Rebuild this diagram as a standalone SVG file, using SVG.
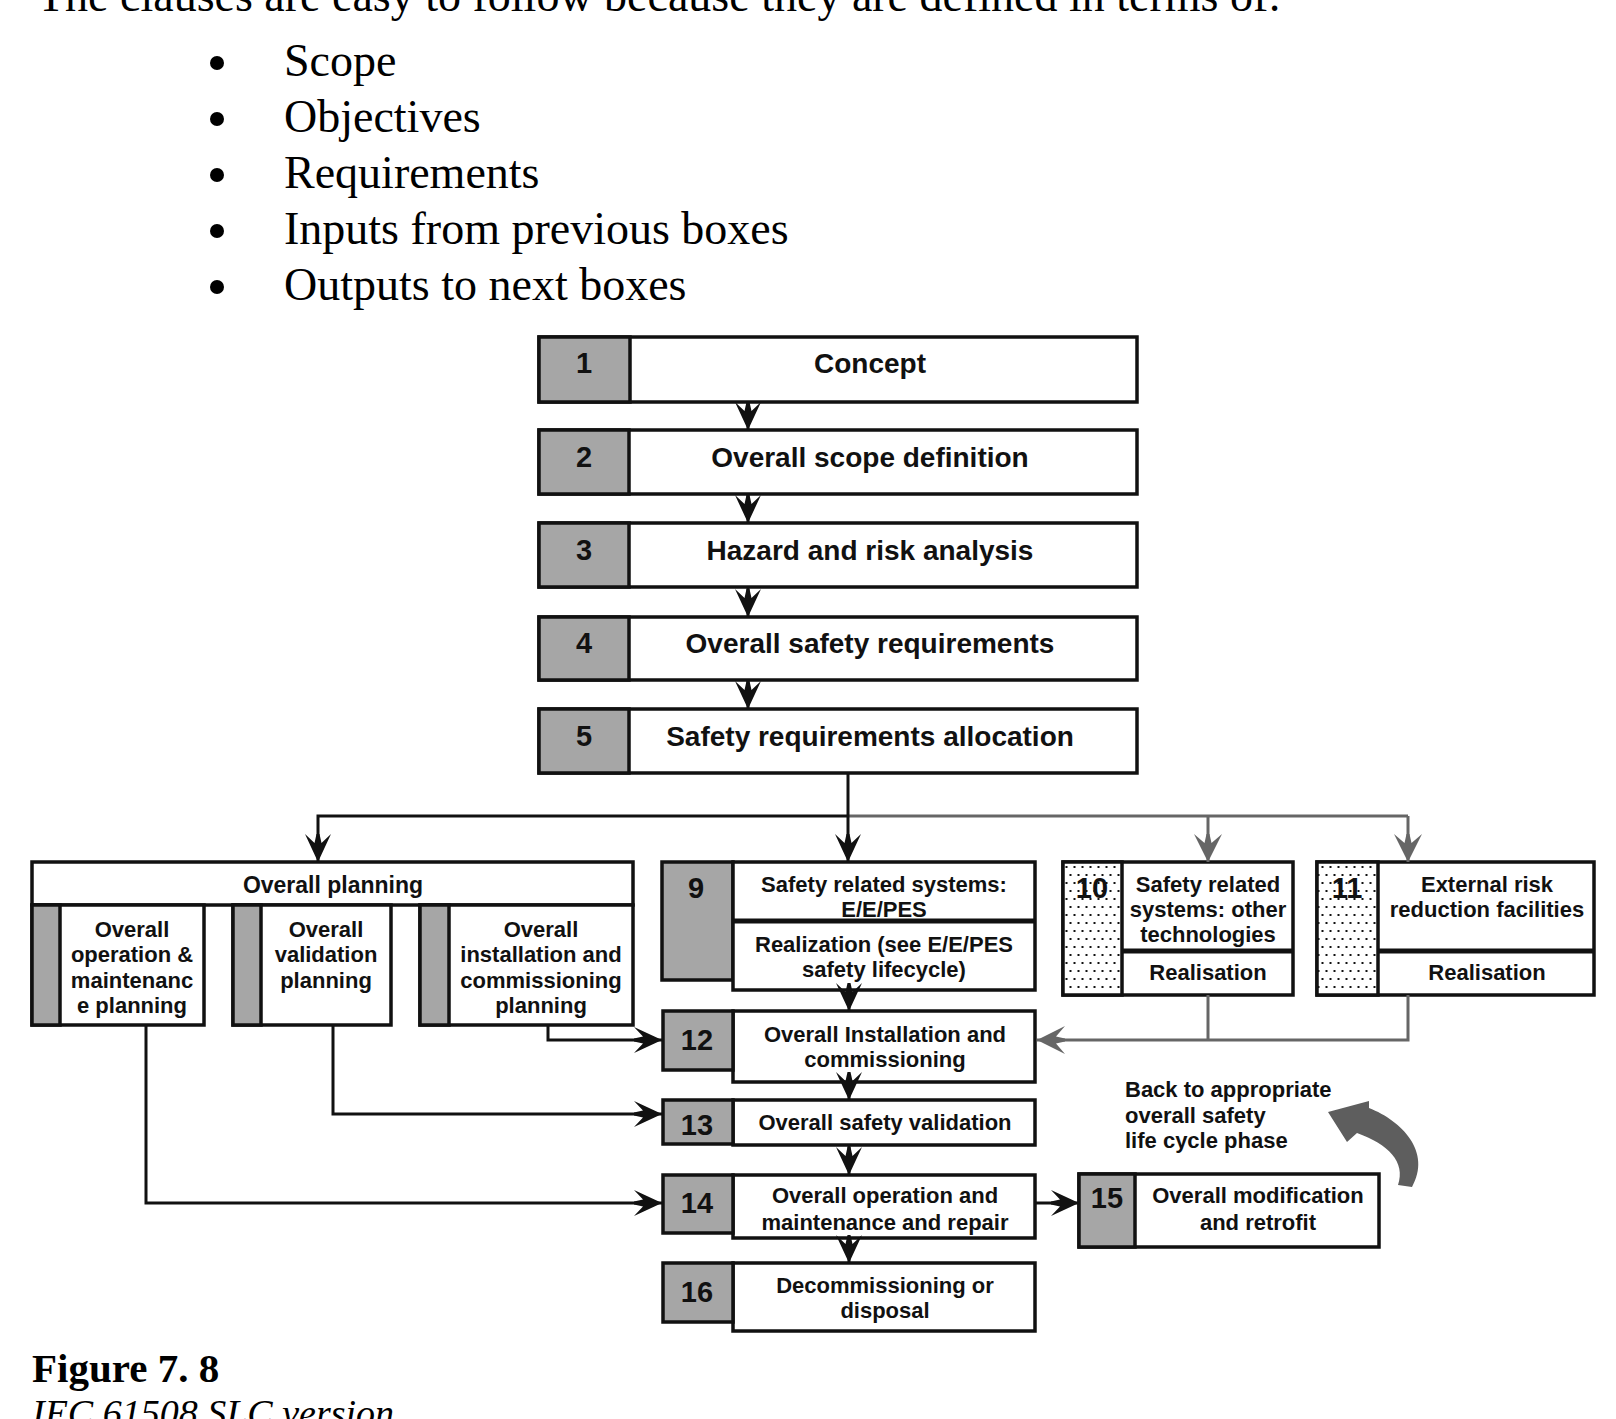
<svg xmlns="http://www.w3.org/2000/svg" width="1616" height="1419" viewBox="0 0 1616 1419">
<style>
.box{fill:#fff;stroke:#111;stroke-width:3.5}
.num{fill:#a6a6a6;stroke:#111;stroke-width:3.5}
.dot{fill:url(#dots);stroke:#111;stroke-width:3.5}
.div{stroke:#111;stroke-width:5}
.t{font-family:"Liberation Sans",Arial,sans-serif;font-weight:bold;fill:#111;text-anchor:middle}
.big{font-size:28px}
.mid{font-size:22px}
.n{font-size:29px}
.ser{font-family:"Liberation Serif","Times New Roman",serif;fill:#000}
.c{fill:none;stroke:#111;stroke-width:3}
.g{fill:none;stroke:#666;stroke-width:3}
</style>
<defs>
<pattern id="dots" patternUnits="userSpaceOnUse" width="8" height="16">
<rect width="8" height="16" fill="#fff"/>
<rect x="1.5" y="2" width="2" height="2" fill="#111"/>
<rect x="5.5" y="10" width="2" height="2" fill="#111"/>
</pattern>
<marker id="ab" markerUnits="userSpaceOnUse" markerWidth="28" markerHeight="28" viewBox="0 -14 28 28" refX="28" refY="0" orient="auto">
<path d="M0,-13 L28,0 L0,13 L9,3.5 L0,1.5 L0,-1.5 L9,-3.5 Z" fill="#111"/>
</marker>
<marker id="ag" markerUnits="userSpaceOnUse" markerWidth="28" markerHeight="30" viewBox="0 -15 28 30" refX="28" refY="0" orient="auto">
<path d="M0,-14 L28,0 L0,14 L9,3.5 L0,1.5 L0,-1.5 L9,-3.5 Z" fill="#666"/>
</marker>
</defs>
<rect width="1616" height="1419" fill="#fff"/>

<g id="intro">
<text class="ser" x="37" y="11" font-size="46">The clauses are easy to follow because they are defined in terms of:</text>
<circle cx="217" cy="63" r="7"/>
<text class="ser" x="284" y="76" font-size="46">Scope</text>
<circle cx="217" cy="119" r="7"/>
<text class="ser" x="284" y="132" font-size="46">Objectives</text>
<circle cx="217" cy="175" r="7"/>
<text class="ser" x="284" y="188" font-size="46">Requirements</text>
<circle cx="217" cy="231" r="7"/>
<text class="ser" x="284" y="244" font-size="46">Inputs from previous boxes</text>
<circle cx="217" cy="287" r="7"/>
<text class="ser" x="284" y="300" font-size="46">Outputs to next boxes</text>
</g>

<g id="n1">
<rect class="box" x="539" y="337" width="598" height="65"/>
<rect class="num" x="539" y="337" width="91" height="65"/>
<text class="t n" x="584" y="373">1</text>
<text class="t big" x="870" y="373">Concept</text>
</g>
<g id="n2">
<rect class="box" x="539" y="430" width="598" height="64"/>
<rect class="num" x="539" y="430" width="90" height="64"/>
<text class="t n" x="584" y="467">2</text>
<text class="t big" x="870" y="467">Overall scope definition</text>
</g>
<g id="n3">
<rect class="box" x="539" y="523" width="598" height="64"/>
<rect class="num" x="539" y="523" width="90" height="64"/>
<text class="t n" x="584" y="560">3</text>
<text class="t big" x="870" y="560">Hazard and risk analysis</text>
</g>
<g id="n4">
<rect class="box" x="539" y="617" width="598" height="63"/>
<rect class="num" x="539" y="617" width="90" height="63"/>
<text class="t n" x="584" y="653">4</text>
<text class="t big" x="870" y="653">Overall safety requirements</text>
</g>
<g id="n5">
<rect class="box" x="539" y="709" width="598" height="64"/>
<rect class="num" x="539" y="709" width="90" height="64"/>
<text class="t n" x="584" y="746">5</text>
<text class="t big" x="870" y="746">Safety requirements allocation</text>
</g>

<g id="planning">
<rect class="box" x="32" y="862" width="601" height="43"/>
<text class="t" x="333" y="893" font-size="23">Overall planning</text>
<rect class="box" x="32" y="905" width="172" height="120"/>
<rect class="num" x="32" y="905" width="28" height="120"/>
<text class="t mid" x="132" y="937">Overall</text>
<text class="t mid" x="132" y="962">operation &amp;</text>
<text class="t mid" x="132" y="988">maintenanc</text>
<text class="t mid" x="132" y="1013">e planning</text>
<rect class="box" x="233" y="905" width="158" height="120"/>
<rect class="num" x="233" y="905" width="28" height="120"/>
<text class="t mid" x="326" y="937">Overall</text>
<text class="t mid" x="326" y="962">validation</text>
<text class="t mid" x="326" y="988">planning</text>
<rect class="box" x="420" y="905" width="213" height="120"/>
<rect class="num" x="420" y="905" width="29" height="120"/>
<text class="t mid" x="541" y="937">Overall</text>
<text class="t mid" x="541" y="962">installation and</text>
<text class="t mid" x="541" y="988">commissioning</text>
<text class="t mid" x="541" y="1013">planning</text>
</g>

<g id="n9">
<rect class="num" x="662" y="862" width="71" height="118"/>
<rect class="box" x="733" y="862" width="302" height="128"/>
<line class="div" x1="733" y1="921" x2="1035" y2="921"/>
<text class="t n" x="696" y="898">9</text>
<text class="t mid" x="884" y="892">Safety related systems:</text>
<text class="t mid" x="884" y="917">E/E/PES</text>
<text class="t mid" x="884" y="952">Realization (see E/E/PES</text>
<text class="t mid" x="884" y="977">safety lifecycle)</text>
</g>

<g id="n10">
<rect class="box" x="1063" y="862" width="230" height="133"/>
<rect class="dot" x="1063" y="862" width="59" height="133"/>
<line class="div" x1="1122" y1="951" x2="1293" y2="951"/>
<text class="t n" x="1092" y="898">10</text>
<text class="t mid" x="1208" y="892">Safety related</text>
<text class="t mid" x="1208" y="917">systems: other</text>
<text class="t mid" x="1208" y="942">technologies</text>
<text class="t mid" x="1208" y="980">Realisation</text>
</g>

<g id="n11">
<rect class="box" x="1317" y="862" width="277" height="133"/>
<rect class="dot" x="1317" y="862" width="61" height="133"/>
<line class="div" x1="1378" y1="951" x2="1594" y2="951"/>
<text class="t n" x="1347" y="898">11</text>
<text class="t mid" x="1487" y="892">External risk</text>
<text class="t mid" x="1487" y="917">reduction facilities</text>
<text class="t mid" x="1487" y="980">Realisation</text>
</g>

<g id="n12">
<rect class="box" x="733" y="1011" width="302" height="71"/>
<rect class="num" x="663" y="1011" width="70" height="59"/>
<text class="t n" x="697" y="1050">12</text>
<text class="t mid" x="885" y="1042">Overall Installation and</text>
<text class="t mid" x="885" y="1067">commissioning</text>
</g>
<g id="n13">
<rect class="box" x="733" y="1100" width="302" height="45"/>
<rect class="num" x="663" y="1100" width="70" height="44"/>
<text class="t n" x="697" y="1135">13</text>
<text class="t mid" x="885" y="1130">Overall safety validation</text>
</g>
<g id="n14">
<rect class="box" x="733" y="1175" width="302" height="63"/>
<rect class="num" x="663" y="1175" width="70" height="58"/>
<text class="t n" x="697" y="1213">14</text>
<text class="t mid" x="885" y="1203">Overall operation and</text>
<text class="t mid" x="885" y="1230">maintenance and repair</text>
</g>
<g id="n16">
<rect class="box" x="733" y="1263" width="302" height="68"/>
<rect class="num" x="663" y="1263" width="70" height="59"/>
<text class="t n" x="697" y="1302">16</text>
<text class="t mid" x="885" y="1293">Decommissioning or</text>
<text class="t mid" x="885" y="1318">disposal</text>
</g>
<g id="n15">
<rect class="box" x="1079" y="1174" width="300" height="73"/>
<rect class="num" x="1079" y="1174" width="56" height="73"/>
<text class="t n" x="1107" y="1208">15</text>
<text class="t mid" x="1258" y="1203">Overall modification</text>
<text class="t mid" x="1258" y="1230">and retrofit</text>
</g>

<g id="back">
<text class="t mid" x="1125" y="1097" style="text-anchor:start">Back to appropriate</text>
<text class="t mid" x="1125" y="1123" style="text-anchor:start">overall safety</text>
<text class="t mid" x="1125" y="1148" style="text-anchor:start">life cycle phase</text>
<path d="M1328,1112 L1369,1101 L1369,1108 C1402,1121 1432,1152 1412,1187 L1398,1185 C1406,1162 1388,1144 1357,1133 L1347,1142 Z" fill="#5e5e5e"/>
</g>

<g id="connectors">
<path class="c" d="M748,402 V430" marker-end="url(#ab)"/>
<path class="c" d="M748,494 V523" marker-end="url(#ab)"/>
<path class="c" d="M748,587 V617" marker-end="url(#ab)"/>
<path class="c" d="M748,680 V709" marker-end="url(#ab)"/>
<path class="g" d="M848,816 H1408"/>
<path class="g" d="M1208,816 V862" marker-end="url(#ag)"/>
<path class="g" d="M1408,816 V862" marker-end="url(#ag)"/>
<path class="c" d="M848,773 V862" marker-end="url(#ab)"/>
<path class="c" d="M848,816 H318 V862" marker-end="url(#ab)"/>
<path class="c" d="M548,1025 V1040 H662" marker-end="url(#ab)"/>
<path class="c" d="M333,1025 V1114 H662" marker-end="url(#ab)"/>
<path class="c" d="M146,1025 V1203 H662" marker-end="url(#ab)"/>
<path class="g" d="M1208,995 V1040"/>
<path class="g" d="M1408,995 V1040 H1037" marker-end="url(#ag)"/>
<path class="c" d="M849,990 V1011" marker-end="url(#ab)"/>
<path class="c" d="M849,1082 V1100" marker-end="url(#ab)"/>
<path class="c" d="M849,1145 V1175" marker-end="url(#ab)"/>
<path class="c" d="M849,1238 V1263" marker-end="url(#ab)"/>
<path class="c" d="M1035,1203 H1079" marker-end="url(#ab)"/>
</g>

<g id="caption">
<text class="ser" x="32" y="1382" font-size="41" font-weight="bold">Figure 7. 8</text>
<text class="ser" x="32" y="1426" font-size="38" font-style="italic">IEC 61508 SLC version</text>
</g>
</svg>
